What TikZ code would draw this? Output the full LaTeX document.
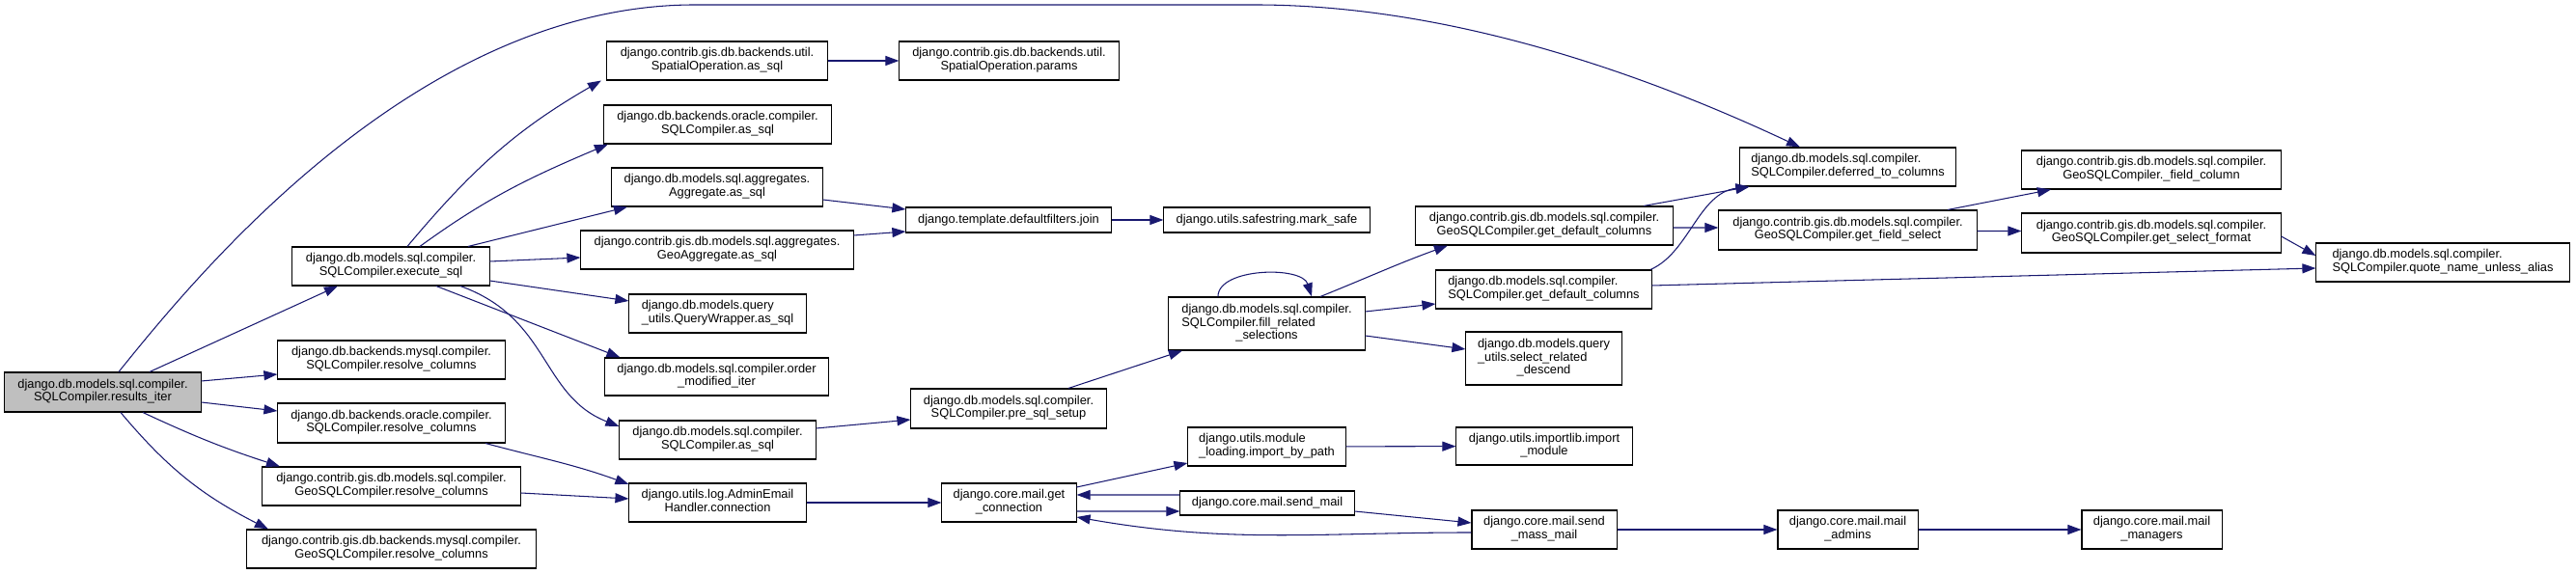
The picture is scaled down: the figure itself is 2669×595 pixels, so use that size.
\documentclass[tikz,border=0pt]{standalone}
\usepackage{fontspec}
\setmainfont{Liberation Sans}
\usetikzlibrary{arrows.meta}
\definecolor{edgeblue}{HTML}{191970}
% all lines but the last are left-justified, the last one is centred
\newcommand{\dlabel}[2]{\begin{tabular}{@{}l@{}}#1\\\multicolumn{1}{@{}c@{}}{#2}\end{tabular}}

\begin{document}
\begin{tikzpicture}[x=0.01cm, y=-0.01cm, >={Triangle[length=1.4mm,width=1mm]}, line width=0.3pt, font=\fontsize{3.65}{3.8}\selectfont]
    \tikzstyle{fn}=[draw=black, inner sep=0pt, align=center, minimum height=0.4cm]
    \tikzstyle{call}=[->, draw=edgeblue]
    \useasboundingbox (0,0) rectangle (2669,595);
    % column 1 and 2
    \node[fn, fill=black!25, minimum width=2.03cm, minimum height=0.41cm] (root) at (106.5,406.5) {\dlabel{django.db.models.sql.compiler.}{SQLCompiler.results\_iter}};
    \node[fn, minimum width=2.04cm] (execsql) at (405,276) {\dlabel{django.db.models.sql.compiler.}{SQLCompiler.execute\_sql}};
    \node[fn, minimum width=2.35cm] (mysqlres) at (405.5,373) {\dlabel{django.db.backends.mysql.compiler.}{SQLCompiler.resolve\_columns}};
    \node[fn, minimum width=2.35cm, minimum height=0.41cm] (oracleres) at (405.5,438.5) {\dlabel{django.db.backends.oracle.compiler.}{SQLCompiler.resolve\_columns}};
    \node[fn, minimum width=2.67cm] (geores) at (405.5,504) {\dlabel{django.contrib.gis.db.models.sql.compiler.}{GeoSQLCompiler.resolve\_columns}};
    \node[fn, minimum width=2.99cm] (geomysqlres) at (405.5,569) {\dlabel{django.contrib.gis.db.backends.mysql.compiler.}{GeoSQLCompiler.resolve\_columns}};
    % column 3
    \node[fn, minimum width=2.28cm] (spatialsql) at (743,63) {\dlabel{django.contrib.gis.db.backends.util.}{SpatialOperation.as\_sql}};
    \node[fn, minimum width=2.35cm] (oraclesql) at (743.5,129) {\dlabel{django.db.backends.oracle.compiler.}{SQLCompiler.as\_sql}};
    \node[fn, minimum width=2.18cm] (aggsql) at (743,194) {\dlabel{django.db.models.sql.aggregates.}{Aggregate.as\_sql}};
    \node[fn, minimum width=2.82cm] (geoaggsql) at (743,259) {\dlabel{django.contrib.gis.db.models.sql.aggregates.}{GeoAggregate.as\_sql}};
    \node[fn, minimum width=1.83cm] (querywrap) at (743.5,325) {\dlabel{django.db.models.query}{\_utils.QueryWrapper.as\_sql}};
    \node[fn, minimum width=2.31cm, minimum height=0.39cm] (ordermod) at (742.5,390.5) {\dlabel{django.db.models.sql.compiler.order}{\_modified\_iter}};
    \node[fn, minimum width=2.03cm] (compsql) at (743.5,456) {\dlabel{django.db.models.sql.compiler.}{SQLCompiler.as\_sql}};
    \node[fn, minimum width=1.83cm] (adminconn) at (743.5,521) {\dlabel{django.utils.log.AdminEmail}{Handler.connection}};
    % column 4
    \node[fn, minimum width=2.27cm] (spatialparams) at (1045.5,63) {\dlabel{django.contrib.gis.db.backends.util.}{SpatialOperation.params}};
    \node[fn, minimum width=2.12cm, minimum height=0.26cm] (join) at (1045,228) {django.template.defaultfilters.join};
    \node[fn, minimum width=2.02cm, minimum height=0.41cm] (presql) at (1045,423.5) {\dlabel{django.db.models.sql.compiler.}{SQLCompiler.pre\_sql\_setup}};
    \node[fn, minimum width=1.39cm] (getconn) at (1045.5,521) {\dlabel{django.core.mail.get}{\_connection}};
    % column 5
    \node[fn, minimum width=2.13cm, minimum height=0.26cm] (marksafe) at (1312.5,228) {django.utils.safestring.mark\_safe};
    \node[fn, minimum width=2.03cm, minimum height=0.55cm] (fillrel) at (1312.5,335.5) {\dlabel{django.db.models.sql.compiler.\\SQLCompiler.fill\_related}{\_selections}};
    \node[fn, minimum width=1.63cm] (importpath) at (1312.5,463) {\dlabel{django.utils.module}{\_loading.import\_by\_path}};
    \node[fn, minimum width=1.80cm, minimum height=0.25cm] (sendmail) at (1313,521.5) {django.core.mail.send\_mail};
    % column 6
    \node[fn, minimum width=2.66cm] (geodefcols) at (1600,234) {\dlabel{django.contrib.gis.db.models.sql.compiler.}{GeoSQLCompiler.get\_default\_columns}};
    \node[fn, minimum width=2.23cm] (defcols) at (1599.5,300) {\dlabel{django.db.models.sql.compiler.}{SQLCompiler.get\_default\_columns}};
    \node[fn, minimum width=1.61cm, minimum height=0.55cm] (seldescend) at (1599.5,371.5) {\dlabel{django.db.models.query\\\_utils.select\_related}{\_descend}};
    \node[fn, minimum width=1.82cm, minimum height=0.39cm] (importmod) at (1600,462.5) {\dlabel{django.utils.importlib.import}{\_module}};
    \node[fn, minimum width=1.50cm] (sendmass) at (1600,549) {\dlabel{django.core.mail.send}{\_mass\_mail}};
    % column 7 to 9
    \node[fn, minimum width=2.23cm] (deferred) at (1914.5,173) {\dlabel{django.db.models.sql.compiler.}{SQLCompiler.deferred\_to\_columns}};
    \node[fn, minimum width=2.67cm, minimum height=0.41cm] (fieldsel) at (1914.5,238.5) {\dlabel{django.contrib.gis.db.models.sql.compiler.}{GeoSQLCompiler.get\_field\_select}};
    \node[fn, minimum width=1.45cm] (mailadmins) at (1914.5,549) {\dlabel{django.core.mail.mail}{\_admins}};
    \node[fn, minimum width=2.68cm] (fieldcol) at (2229,176) {\dlabel{django.contrib.gis.db.models.sql.compiler.}{GeoSQLCompiler.\_field\_column}};
    \node[fn, minimum width=2.68cm, minimum height=0.41cm] (selformat) at (2229,241.5) {\dlabel{django.contrib.gis.db.models.sql.compiler.}{GeoSQLCompiler.get\_select\_format}};
    \node[fn, minimum width=1.45cm] (mailmanagers) at (2229.5,549) {\dlabel{django.core.mail.mail}{\_managers}};
    \node[fn, minimum width=2.62cm] (quote) at (2531,272) {\dlabel{django.db.models.sql.compiler.}{SQLCompiler.quote\_name\_unless\_alias}};

    % calls out of results_iter
    \draw[call] ([xshift=0.485cm]root.north) -- ([xshift=-0.55cm]execsql.south);
    \draw[call] ([xshift=0.165cm]root.north) .. controls (200,290) and (430,5) .. (720,5) -- (1300,5) .. controls (1500,5) and (1700,75) .. ([xshift=-0.495cm]deferred.north);
    \draw[call] ([yshift=0.115cm]root.east) -- ([yshift=-0.15cm]mysqlres.west);
    \draw[call] ([yshift=-0.105cm]root.east) -- ([yshift=0.125cm]oracleres.west);
    \draw[call] ([xshift=0.415cm]root.south) to[out=-25,in=162] ([xshift=-1.155cm]geores.north);
    \draw[call] ([xshift=0.185cm]root.south) to[out=-50,in=153] ([xshift=-1.275cm]geomysqlres.north);
    % calls out of execute_sql
    \draw[call] ([xshift=0.17cm]execsql.north) to[out=50,in=-150] ([xshift=-1.2cm]spatialsql.south);
    \draw[call] ([xshift=0.3cm]execsql.north) to[out=36,in=-157] ([xshift=-1.135cm]oraclesql.south);
    \draw[call] ([xshift=0.8cm]execsql.north) -- ([xshift=-0.93cm]aggsql.south);
    \draw[call] ([yshift=0.05cm]execsql.east) -- ([yshift=-0.08cm]geoaggsql.west);
    \draw[call] ([yshift=-0.15cm]execsql.east) -- ([yshift=0.13cm]querywrap.west);
    \draw[call] ([xshift=0.47cm]execsql.south) -- ([xshift=-1.0cm]ordermod.north);
    \draw[call] ([xshift=0.72cm]execsql.south) .. controls (570,330) and (560,410) .. ([yshift=0.14cm]compsql.west);
    % middle of the graph
    \draw[call] (spatialsql) -- (spatialparams);
    \draw[call] ([yshift=-0.13cm]aggsql.east) -- ([yshift=0.11cm]join.west);
    \draw[call] ([yshift=0.15cm]geoaggsql.east) -- ([yshift=-0.12cm]join.west);
    \draw[call] (join) -- (marksafe);
    \draw[call] ([yshift=0.12cm]compsql.east) -- ([yshift=-0.115cm]presql.west);
    \draw[call] ([xshift=0.62cm]presql.north) -- ([xshift=-0.875cm]fillrel.south);
    \draw[call] ([xshift=-0.505cm]fillrel.north) .. controls +(0,-30) and +(-10,-32) .. ([xshift=0.465cm]fillrel.north);
    \draw[call] ([xshift=0.555cm]fillrel.north) to[out=22,in=-160] ([xshift=-1.0cm]geodefcols.south);
    \draw[call] ([yshift=0.125cm]fillrel.east) -- ([yshift=-0.15cm]defcols.west);
    \draw[call] ([yshift=-0.125cm]fillrel.east) -- ([yshift=0.095cm]seldescend.west);
    \draw[call] ([xshift=1.03cm]geodefcols.north) -- ([xshift=-1.02cm]deferred.south);
    \draw[call] ([yshift=-0.02cm]geodefcols.east) -- ([yshift=0.025cm]fieldsel.west);
    \draw[call] ([xshift=1.105cm]defcols.north) .. controls (1750,262) and (1760,200) .. ([xshift=-1.02cm]deferred.south);
    \draw[call] ([yshift=0.04cm]defcols.east) -- ([yshift=-0.06cm]quote.west);
    \draw[call] ([xshift=1.035cm]fieldsel.north) -- ([xshift=-1.04cm]fieldcol.south);
    \draw[call] ([yshift=-0.01cm]fieldsel.east) -- ([yshift=0.02cm]selformat.west);
    \draw[call] ([yshift=-0.035cm]selformat.east) -- ([yshift=0.07cm]quote.west);
    % mail part
    \draw[call] ([xshift=0.975cm]oracleres.south) to[out=-15,in=160] ([yshift=0.19cm]adminconn.west);
    \draw[call] ([yshift=-0.07cm]geores.east) -- ([yshift=0.04cm]adminconn.west);
    \draw[call] (adminconn) -- (getconn);
    \draw[call] ([yshift=0.16cm]getconn.east) -- ([yshift=-0.17cm]importpath.west);
    \draw[call] ([yshift=-0.09cm]getconn.east) -- ([yshift=-0.085cm]sendmail.west);
    \draw[call] ([yshift=0.085cm]sendmail.west) -- ([yshift=0.08cm]getconn.east);
    \draw[call] ([yshift=-0.085cm]sendmail.east) -- ([yshift=0.07cm]sendmass.west);
    \draw[call] ([yshift=-0.03cm]sendmass.west) to[out=180,in=-10] ([yshift=-0.15cm]getconn.east);
    \draw[call] (importpath) -- (importmod);
    \draw[call] (sendmass) -- (mailadmins);
    \draw[call] (mailadmins) -- (mailmanagers);
\end{tikzpicture}
\end{document}
